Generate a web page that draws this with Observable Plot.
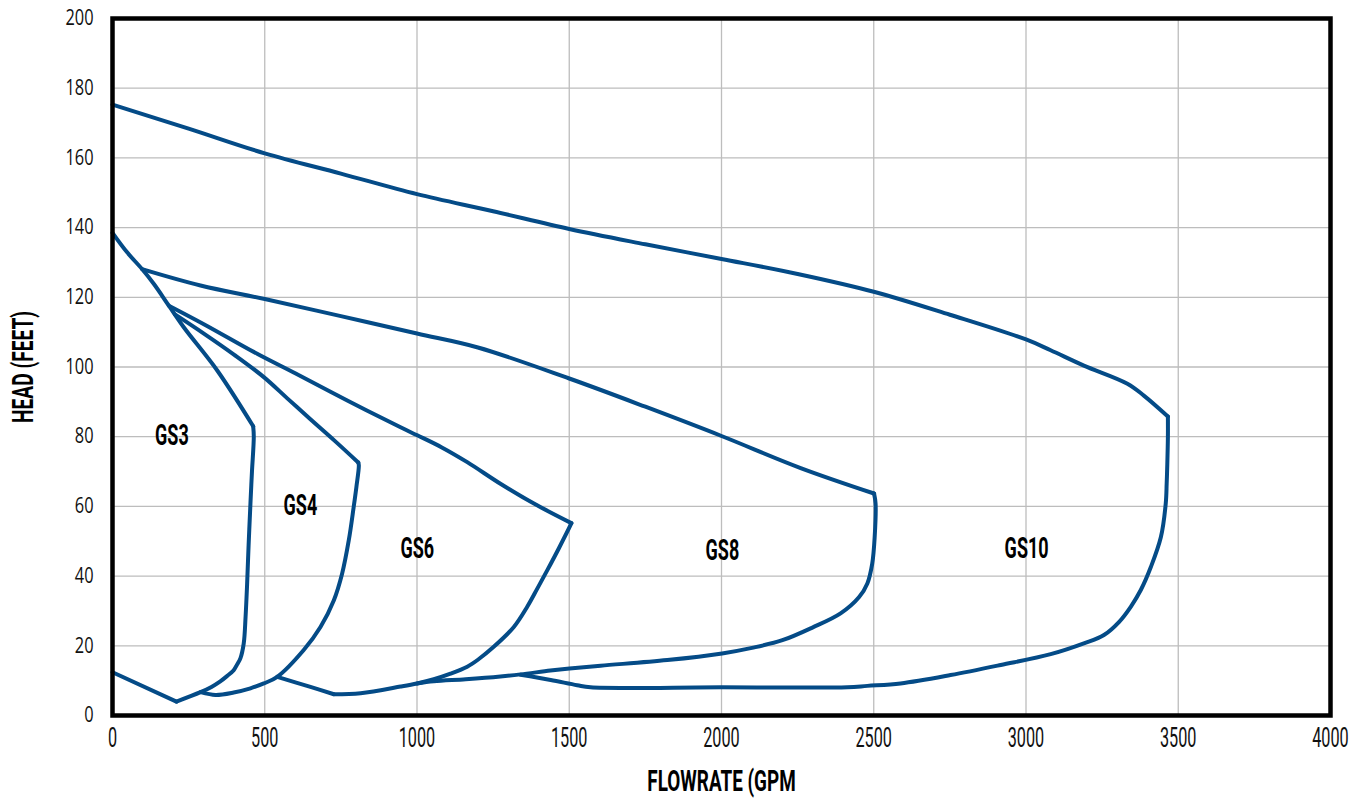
<!DOCTYPE html>
<html><head><meta charset="utf-8">
<script src="https://cdn.jsdelivr.net/npm/d3@7"></script>
<script src="https://cdn.jsdelivr.net/npm/@observablehq/plot@0.6"></script>
<style>html,body{margin:0;padding:0;background:#fff;}</style>
</head><body><div id="chart"></div>
<script>
// Tick values
const xTicks = [0, 500, 1000, 1500, 2000, 2500, 3000, 3500, 4000];
const yTicks = [0, 20, 40, 60, 80, 100, 120, 140, 160, 180, 200];

// GS3 envelope pieces
const gs3TopX = [0, 48, 97, 136, 185, 234, 344, 462];
const gs3TopY = [138.5, 132.9, 128.1, 123.8, 117.6, 111.4, 99.0, 83.0];
const gs3RightX = [462, 464, 458, 453, 447, 442, 437, 431, 420, 409, 398, 376, 354, 325, 289, 210];
const gs3RightY = [83.0, 80.0, 70.0, 60.8, 48.9, 37.5, 28.3, 20.7, 16.4, 14.6, 13.0, 11.3, 9.8, 8.2, 6.7, 4.0];
const gs3BottomX = [210, 0];
const gs3BottomY = [4.0, 12.4];

// GS4 envelope pieces
const gs4TopX = [205, 300, 400, 497, 574, 650, 730, 807];
const gs4TopY = [115.1, 109.6, 103.5, 97.1, 91.0, 85.0, 78.8, 72.6];
const gs4RightX = [807, 809, 801, 792, 776, 754, 727, 683, 628, 541, 497, 453, 398, 338, 289];
const gs4RightY = [72.6, 71.8, 65.6, 59.8, 50.3, 40.7, 33.1, 25.4, 18.8, 11.1, 9.2, 7.8, 6.6, 5.9, 6.7];

// GS6 envelope pieces
const gs6TopX = [185, 300, 475, 600, 771, 946, 1001, 1080, 1165, 1274, 1384, 1507];
const gs6TopY = [117.6, 112.3, 103.8, 98.2, 90.4, 82.7, 80.4, 77.0, 72.7, 66.5, 60.8, 55.2];
const gs6RightX = [1507, 1504, 1466, 1428, 1395, 1362, 1318, 1252, 1200, 1165, 1110, 1055, 1000, 946, 815, 727];
const gs6RightY = [55.2, 54.6, 48.0, 41.7, 36.4, 31.2, 25.4, 19.7, 16.0, 14.0, 12.0, 10.4, 9.2, 8.3, 6.4, 6.1];
const gs6BottomX = [727, 650, 541];
const gs6BottomY = [6.1, 8.2, 11.1];

// GS8 envelope pieces
const gs8TopX = [97, 289, 500, 750, 1000, 1200, 1500, 1750, 2000, 2260, 2501];
const gs8TopY = [128.1, 123.4, 119.5, 114.6, 109.6, 105.6, 96.7, 88.6, 80.2, 71.0, 63.7];
const gs8RightX = [2501, 2506, 2503, 2495, 2479, 2452, 2391, 2300, 2200, 2100, 2002, 1822, 1603, 1501, 1438, 1340, 1274, 1160, 1055, 1000];
const gs8RightY = [63.7, 60.8, 51.2, 43.6, 37.9, 34.0, 29.3, 25.3, 21.6, 19.4, 17.8, 15.9, 14.3, 13.5, 12.9, 11.8, 11.2, 10.4, 9.8, 9.2];

// GS10 envelope pieces
const gs10TopX = [0, 250, 500, 750, 1000, 1250, 1500, 1750, 2000, 2250, 2500, 2750, 3000, 3081, 3190, 3333, 3387, 3466];
const gs10TopY = [175.3, 168.4, 161.3, 155.5, 149.6, 144.7, 139.6, 135.2, 131.0, 126.7, 121.6, 115.0, 107.9, 104.8, 100.4, 95.2, 91.8, 85.8];
const gs10RightX = [3466, 3466, 3464, 3462, 3459, 3443, 3410, 3377, 3344, 3306, 3256, 3190, 3081, 2917, 2752, 2588, 2479, 2413, 2000, 1570, 1526, 1439, 1340];
const gs10RightY = [85.8, 79.9, 72.0, 66.6, 60.9, 51.2, 42.6, 36.0, 31.2, 26.9, 23.1, 20.7, 17.6, 14.5, 11.6, 9.2, 8.5, 8.1, 8.1, 8.1, 8.7, 10.2, 11.7];

// Region labels
const labelNames = ["GS3", "GS4", "GS6", "GS8", "GS10"];
const labelX = [195, 617, 1001, 2003, 3002];
const labelY = [80.4, 60.3, 47.9, 47.4, 47.9];

const xTitle = "FLOWRATE (GPM";
const yTitle = "HEAD (FEET)";

const pieces = [
  ["gs3-top", gs3TopX, gs3TopY], ["gs3-right", gs3RightX, gs3RightY], ["gs3-bottom", gs3BottomX, gs3BottomY],
  ["gs4-top", gs4TopX, gs4TopY], ["gs4-right", gs4RightX, gs4RightY],
  ["gs6-top", gs6TopX, gs6TopY], ["gs6-right", gs6RightX, gs6RightY], ["gs6-bottom", gs6BottomX, gs6BottomY],
  ["gs8-top", gs8TopX, gs8TopY], ["gs8-right", gs8RightX, gs8RightY],
  ["gs10-top", gs10TopX, gs10TopY], ["gs10-right", gs10RightX, gs10RightY]
];
const rows = pieces.flatMap(([name, xs, ys]) => xs.map((x, i) => ({piece: name, x, y: ys[i]})));
const labels = labelNames.map((t, i) => ({t, x: labelX[i], y: labelY[i]}));

const chart = Plot.plot({
  width: 1369,
  height: 807,
  marginLeft: 112,
  marginRight: 39,
  marginTop: 18,
  marginBottom: 92,
  x: {domain: [0, 4000], axis: null},
  y: {domain: [0, 200], axis: null},
  marks: [
    Plot.ruleX(xTicks, {stroke: "#bdbdbd", strokeWidth: 1.3}),
    Plot.ruleY(yTicks, {stroke: "#bdbdbd", strokeWidth: 1.3}),
    Plot.line(rows, {x: "x", y: "y", z: "piece", curve: "catmull-rom", stroke: "#044b87", strokeWidth: 4, strokeLinejoin: "round", strokeLinecap: "round"}),
    Plot.frame({stroke: "#000", strokeWidth: 4.5}),
    Plot.text(xTicks, {x: d => d, frameAnchor: "bottom", dy: 31, text: d => String(d), fontFamily: "Roboto", fontSize: 28, fill: "#111"}),
    Plot.text(yTicks, {y: d => d, frameAnchor: "left", textAnchor: "end", dx: -19, text: d => String(d), fontFamily: "Open Sans", fontSize: 21, fill: "#111"}),
    Plot.text(labels, {x: "x", y: "y", text: "t", fontFamily: "Roboto", fontWeight: "bold", fontSize: 30, fill: "#000"}),
    Plot.text([xTitle], {frameAnchor: "bottom", dy: 75, textAnchor: "middle", text: d => d, fontFamily: "Roboto", fontWeight: "bold", fontSize: 30, fill: "#000"}),
    Plot.text([yTitle], {frameAnchor: "left", dx: -89, rotate: -90, textAnchor: "middle", text: d => d, fontFamily: "Roboto", fontWeight: "bold", fontSize: 30, fill: "#000"})
  ]
});

function condense(g, s) {
  if (!g) return;
  g.querySelectorAll("text").forEach(t => {
    let tr = t.getAttribute("transform") || "";
    const x = t.getAttribute("x");
    if (x != null && x !== "" && !isNaN(+x)) { tr += ` translate(${x},0)`; t.setAttribute("x", 0); }
    t.setAttribute("transform", (tr + ` scale(${s},1)`).trim());
  });
}
const groups = chart.querySelectorAll('g[aria-label="text"]');
const factors = [0.58, 0.78, 0.6, 0.63, 0.64];
groups.forEach((g, i) => condense(g, factors[i] ?? 1));

document.getElementById("chart").appendChild(chart);
</script>
</body></html>
